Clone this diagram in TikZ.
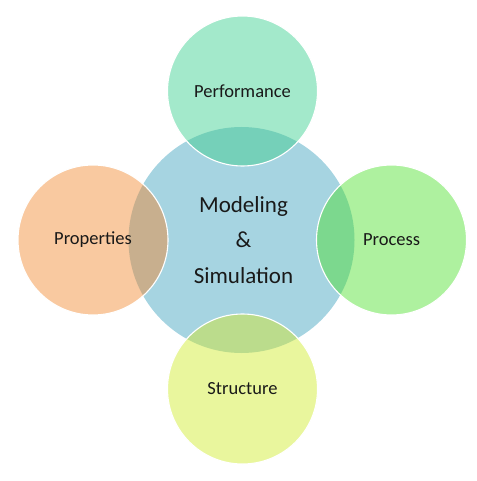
\documentclass[tikz,border=0pt]{standalone}
\usepackage{fontspec}
\setmainfont{Carlito}
\usetikzlibrary{positioning}

\definecolor{mscBlue}{HTML}{A6D4E1}
\definecolor{perfMint}{HTML}{A3E9CB}
\definecolor{propOrange}{HTML}{F9C9A0}
\definecolor{procGreen}{HTML}{AEF19F}
\definecolor{strucYellow}{HTML}{E9F69D}
\definecolor{lensTop}{HTML}{75D0B9}
\definecolor{lensLeft}{HTML}{C8AF8E}
\definecolor{lensRight}{HTML}{7CD88E}
\definecolor{lensBottom}{HTML}{BBDC8C}

\begin{document}
\begin{tikzpicture}[
  x=1pt, y=-1pt,
  hub/.style={circle, minimum size=226pt, inner sep=0pt},
  petal/.style={circle, minimum size=150pt, inner sep=0pt},
  rim/.style={draw=white, line width=1.1pt},
  label/.style={font=\fontsize{18.5}{22}\selectfont, text=black!90},
  hublabel/.style={font=\fontsize{23}{35.5}\selectfont, align=center, text=black!90}
]
\useasboundingbox (0,0) rectangle (476,481);

% Circles
\node[hub, fill=mscBlue] (msc) at (241.5,240) {};
\node[petal, fill=perfMint] (perf) at (242.5,91) {};
\node[petal, fill=propOrange] (prop) at (93,240) {};
\node[petal, fill=procGreen] (proc) at (391.5,240) {};
\node[petal, fill=strucYellow] (struc) at (242.5,389) {};

% Overlaps
\begin{scope}
  \clip (msc.center) circle (113pt);
  \fill[lensTop] (perf.center) circle (75pt);
  \fill[lensLeft] (prop.center) circle (75pt);
  \fill[lensRight] (proc.center) circle (75pt);
  \fill[lensBottom] (struc.center) circle (75pt);
\end{scope}

% White rims
\foreach \c in {perf,prop,proc,struc}
  \draw[rim] (\c.center) circle (75pt);

% Labels
\node[hublabel] (mscText) at (243.5,240) {Modeling\\\&\\Simulation};
\node[label] (perfText) at (perf.center) {Performance};
\node[label] (propText) at (prop.center) {Properties};
\node[label] (procText) at (proc.center) {Process};
\node[label] (strucText) at (struc.center) {Structure};

\end{tikzpicture}
\end{document}
